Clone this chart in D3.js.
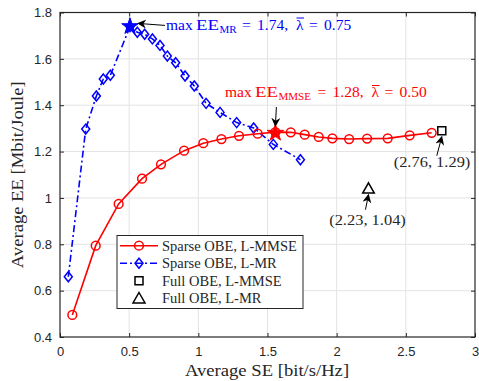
<!DOCTYPE html>
<html>
<head>
<meta charset="utf-8">
<script src="https://cdn.jsdelivr.net/npm/d3@7/dist/d3.min.js"></script>
<style>
  html, body { margin: 0; padding: 0; background: #fff; }
  svg { display: block; }
  .tick text { font-family: "Liberation Sans", Arial, sans-serif; font-size: 13px; fill: #262626; }
  .serif { font-family: "Liberation Serif", "Times New Roman", serif; }
</style>
</head>
<body>
<svg id="chart" width="479" height="381"></svg>
<script>
// Sparse OBE, L-MMSE combining: average SE vs. average EE
const mmseSE = [0.089, 0.258, 0.424, 0.593, 0.730, 0.897, 1.036, 1.167, 1.294, 1.429,
                1.557, 1.668, 1.769, 1.870, 1.969, 2.090, 2.220, 2.369, 2.528, 2.687];
const mmseEE = [0.495, 0.794, 0.974, 1.083, 1.145, 1.204, 1.236, 1.254, 1.268, 1.277,
                1.284, 1.283, 1.273, 1.263, 1.257, 1.254, 1.256, 1.257, 1.270, 1.281];
// Sparse OBE, L-MR combining
const mrSE = [0.060, 0.186, 0.263, 0.313, 0.364, 0.506, 0.559, 0.612, 0.668, 0.723,
              0.776, 0.836, 0.904, 0.971, 1.056, 1.157, 1.277, 1.400, 1.542, 1.738];
const mrEE = [0.660, 1.297, 1.440, 1.513, 1.529, 1.739, 1.715, 1.706, 1.686, 1.658,
              1.612, 1.583, 1.526, 1.483, 1.408, 1.369, 1.325, 1.302, 1.231, 1.165];
// Full OBE reference points [SE, EE]
const fullMMSE = [2.76, 1.29];
const fullMR = [2.23, 1.04];
// Maximum-EE operating points [SE, EE] and their lambda-bar values
const maxMMSE = [1.557, 1.28];
const maxMR = [0.506, 1.74];
const lamMMSE = "0.50";
const lamMR = "0.75";

const xTicks = [0, 0.5, 1, 1.5, 2, 2.5, 3];
const yTicks = [0.4, 0.6, 0.8, 1, 1.2, 1.4, 1.6, 1.8];
const legendLabels = ["Sparse OBE, L-MMSE", "Sparse OBE, L-MR", "Full OBE, L-MMSE", "Full OBE, L-MR"];

const svg = d3.select("#chart");
const L = 60, R = 475, T = 12.5, B = 337;
const x = d3.scaleLinear().domain([0, 3]).range([L, R]);
const y = d3.scaleLinear().domain([0.4, 1.8]).range([B, T]);

const axisColor = "#262626";
const red = "#ff0000", blue = "#0000ff";

// grid
const grid = svg.append("g");
grid.selectAll(".gx").data(xTicks.slice(1, -1)).enter().append("line")
  .attr("x1", d => x(d)).attr("x2", d => x(d)).attr("y1", T).attr("y2", B)
  .attr("stroke", "#e3e3e3").attr("stroke-width", 1);
grid.selectAll(".gy").data(yTicks.slice(1, -1)).enter().append("line")
  .attr("y1", d => y(d)).attr("y2", d => y(d)).attr("x1", L).attr("x2", R)
  .attr("stroke", "#e3e3e3").attr("stroke-width", 1);

// axes (ticks inward on all four sides)
function styleAxis(g) {
  g.select(".domain").remove();
  g.selectAll(".tick line").attr("stroke", axisColor).attr("stroke-width", 1);
}
svg.append("g").attr("transform", `translate(0,${B})`)
  .call(d3.axisBottom(x).tickValues(xTicks).tickSizeInner(-4).tickSizeOuter(0).tickPadding(10).tickFormat(d3.format("")))
  .call(styleAxis);
svg.append("g").attr("transform", `translate(0,${T})`)
  .call(d3.axisTop(x).tickValues(xTicks).tickSizeInner(-4).tickSizeOuter(0).tickFormat(""))
  .call(styleAxis);
svg.append("g").attr("transform", `translate(${L},0)`)
  .call(d3.axisLeft(y).tickValues(yTicks).tickSizeInner(-4).tickSizeOuter(0).tickPadding(8).tickFormat(d3.format("")))
  .call(styleAxis);
svg.append("g").attr("transform", `translate(${R},0)`)
  .call(d3.axisRight(y).tickValues(yTicks).tickSizeInner(-4).tickSizeOuter(0).tickFormat(""))
  .call(styleAxis);
svg.append("rect").attr("x", L).attr("y", T).attr("width", R - L).attr("height", B - T)
  .attr("fill", "none").attr("stroke", axisColor).attr("stroke-width", 1.2);

// axis titles (serif, slightly widened)
svg.append("text").attr("class", "serif")
  .attr("transform", `translate(${(L + R) / 2 - 0.5},376) scale(1.13,1)`)
  .attr("text-anchor", "middle").attr("font-size", 16.5).attr("fill", axisColor)
  .text("Average SE [bit/s/Hz]");
svg.append("text").attr("class", "serif")
  .attr("transform", `translate(23,${(T + B) / 2}) rotate(-90) scale(1.13,1)`)
  .attr("text-anchor", "middle").attr("font-size", 16.5).attr("fill", axisColor)
  .text("Average EE [Mbit/Joule]");

// marker shapes
const circleSym = d3.symbol().type(d3.symbolCircle).size(60);
const diamondPath = (r) => `M0,${-r}L${r * 0.8},0L0,${r}L${-r * 0.8},0Z`;
const starSym = d3.symbol().type(d3.symbolStar).size(85);
const squarePath = (h) => `M${-h},${-h}H${h}V${h}H${-h}Z`;
const triPath = (r) => `M0,${-r}L${r},${r * 0.75}L${-r},${r * 0.75}Z`;

const line = d3.line().x(d => x(d[0])).y(d => y(d[1]));
const mmse = mmseSE.map((v, i) => [v, mmseEE[i]]);
const mr = mrSE.map((v, i) => [v, mrEE[i]]);

// L-MR curve
svg.append("path").datum(mr).attr("d", line).attr("fill", "none")
  .attr("stroke", blue).attr("stroke-width", 1.6).attr("stroke-dasharray", "7,3,2,3");
svg.selectAll(".mrpt").data(mr).enter().append("path")
  .attr("transform", d => `translate(${x(d[0])},${y(d[1])})`)
  .attr("d", diamondPath(5)).attr("fill", "none").attr("stroke", blue).attr("stroke-width", 1.5);

// L-MMSE curve
svg.append("path").datum(mmse).attr("d", line).attr("fill", "none")
  .attr("stroke", red).attr("stroke-width", 1.6);
svg.selectAll(".mmsept").data(mmse).enter().append("path")
  .attr("transform", d => `translate(${x(d[0])},${y(d[1])})`)
  .attr("d", circleSym).attr("fill", "none").attr("stroke", red).attr("stroke-width", 1.5);

// maximum-EE stars
svg.append("path").attr("transform", `translate(${x(maxMR[0])},${y(maxMR[1])})`)
  .attr("d", starSym).attr("fill", blue).attr("stroke", blue).attr("stroke-width", 1);
svg.append("path").attr("transform", `translate(${x(maxMMSE[0])},${y(maxMMSE[1])})`)
  .attr("d", starSym).attr("fill", red).attr("stroke", red).attr("stroke-width", 1);

// full OBE points
svg.append("path").attr("transform", `translate(${x(fullMMSE[0])},${y(fullMMSE[1])})`)
  .attr("d", squarePath(4)).attr("fill", "none").attr("stroke", "#000").attr("stroke-width", 1.5);
svg.append("path").attr("transform", `translate(${x(fullMR[0])},${y(fullMR[1])})`)
  .attr("d", triPath(5.8)).attr("fill", "none").attr("stroke", "#000").attr("stroke-width", 1.5);

// arrows
const defs = svg.append("defs");
defs.append("marker").attr("id", "ah").attr("viewBox", "0 0 10 10").attr("refX", 9).attr("refY", 5)
  .attr("markerWidth", 9).attr("markerHeight", 9).attr("markerUnits", "userSpaceOnUse").attr("orient", "auto")
  .append("path").attr("d", "M0,0L10,5L0,10L3,5Z").attr("fill", "#000");
function arrow(x1, y1, x2, y2) {
  svg.append("line").attr("x1", x1).attr("y1", y1).attr("x2", x2).attr("y2", y2)
    .attr("stroke", "#000").attr("stroke-width", 1).attr("marker-end", "url(#ah)");
}
arrow(x(maxMR[0]) + 35, y(maxMR[1]) - 1, x(maxMR[0]) + 8, y(maxMR[1]) - 3);
arrow(x(maxMMSE[0]) + 1, y(maxMMSE[1]) - 26, x(maxMMSE[0]), y(maxMMSE[1]) - 7);
arrow(x(fullMMSE[0]) - 5, y(fullMMSE[1]) + 25, x(fullMMSE[0]), y(fullMMSE[1]) + 6);
arrow(x(fullMR[0]) - 3, y(fullMR[1]) + 21, x(fullMR[0]), y(fullMR[1]) + 6);

// "max EE_sub = v,  lambda-bar = l" set piece by piece with math spacing
function mathLabel(x0, ty, color, sub, value, lam, subW) {
  const g = svg.append("g").attr("fill", color);
  const piece = (px, txt, fs, dy) => g.append("text").attr("class", "serif")
    .attr("x", x0 + px).attr("y", ty + (dy || 0)).attr("font-size", fs).text(txt);
  piece(0, "max", 15.5);
  piece(30, "EE", 15.5).attr("textLength", 23).attr("lengthAdjust", "spacingAndGlyphs");
  piece(53.5, sub, 11, 3);
  const s = 53.5 + subW;
  piece(s + 6, "=", 15.5);
  piece(s + 21, value + ",", 15.5);
  piece(s + 60, "λ", 15.5);
  g.append("line").attr("x1", x0 + s + 60.5).attr("x2", x0 + s + 68).attr("y1", ty - 11.5).attr("y2", ty - 11.5)
    .attr("stroke", color).attr("stroke-width", 1);
  piece(s + 73, "=", 15.5);
  piece(s + 88, lam, 15.5);
}
mathLabel(166, 29.5, blue, "MR", maxMR[1].toFixed(2), lamMR, 16.5);
mathLabel(225, 97, red, "MMSE", maxMMSE[1].toFixed(2), lamMMSE, 33);

function pointLabel(cx, ty, p) {
  svg.append("text").attr("class", "serif").attr("x", cx).attr("y", ty).attr("text-anchor", "middle")
    .attr("font-size", 15.5).attr("fill", "#262626")
    .attr("transform", `translate(${cx * -0.06},0) scale(1.06,1)`)
    .text(`(${p[0].toFixed(2)}, ${p[1].toFixed(2)})`);
}
pointLabel(432, 167, fullMMSE);
pointLabel(367.5, 225, fullMR);

// legend
const lg = svg.append("g");
lg.append("rect").attr("x", 117).attr("y", 235.5).attr("width", 186).attr("height", 73)
  .attr("fill", "#fff").attr("stroke", axisColor).attr("stroke-width", 1);
const rowY = [245.7, 263.3, 280.7, 298];
legendLabels.forEach((lab, i) => {
  const g = lg.append("g").attr("transform", `translate(0,${rowY[i]})`);
  if (i === 0) {
    g.append("line").attr("x1", 120).attr("x2", 158).attr("stroke", red).attr("stroke-width", 1.6);
    g.append("path").attr("transform", "translate(139,0)").attr("d", circleSym).attr("fill", "none").attr("stroke", red).attr("stroke-width", 1.5);
  } else if (i === 1) {
    g.append("line").attr("x1", 120).attr("x2", 158).attr("stroke", blue).attr("stroke-width", 1.6).attr("stroke-dasharray", "7,3,2,3");
    g.append("path").attr("transform", "translate(139,0)").attr("d", diamondPath(5)).attr("fill", "none").attr("stroke", blue).attr("stroke-width", 1.5);
  } else if (i === 2) {
    g.append("path").attr("transform", "translate(139,0)").attr("d", squarePath(4)).attr("fill", "none").attr("stroke", "#000").attr("stroke-width", 1.5);
  } else {
    g.append("path").attr("transform", "translate(139,0.5)").attr("d", triPath(6)).attr("fill", "none").attr("stroke", "#000").attr("stroke-width", 1.5);
  }
  g.append("text").attr("class", "serif").attr("x", 162).attr("y", 5).attr("font-size", 14.5)
    .attr("fill", "#262626").text(lab);
});
</script>
</body>
</html>
